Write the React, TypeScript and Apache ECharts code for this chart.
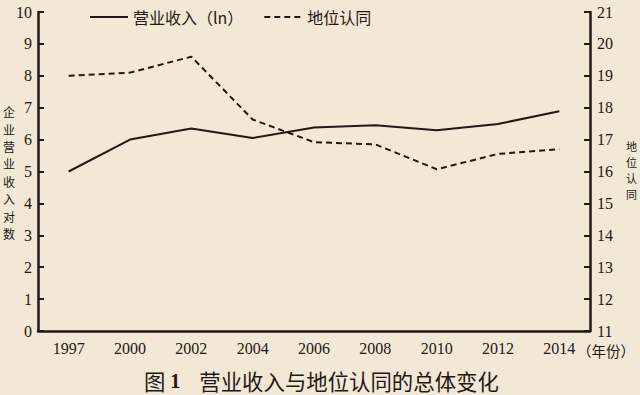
import React, { useEffect, useRef } from "react";
import * as echarts from "echarts";

const years = ["1997", "2000", "2002", "2004", "2006", "2008", "2010", "2012", "2014"];
const revenue = [5.0, 6.0, 6.35, 6.05, 6.38, 6.45, 6.29, 6.49, 6.89];
const status = [19.0, 19.1, 19.6, 17.63, 16.92, 16.85, 16.07, 16.55, 16.7];
const revenueName = "营业收入（ln）";
const statusName = "地位认同";
const leftAxisName = "企业营业收入对数";
const rightAxisName = "地位认同";
const xAxisUnit = "（年份）";

const ink = "#231815";
const bg = "#f3e7d6";
const serif = "Liberation Serif";
const cjk = "Noto Sans CJK SC";

export default function App() {
  const ref = useRef<HTMLDivElement>(null);
  useEffect(() => {
    document.body.style.margin = "0";
    const chart = echarts.init(ref.current!, undefined, { renderer: "svg" });
    chart.setOption({
      animation: false,
      backgroundColor: bg,
      textStyle: { fontFamily: serif },
      grid: { left: 38, right: 50, top: 12, bottom: 64 },
      legend: {
        left: 84,
        top: 4,
        itemWidth: 38,
        itemHeight: 14,
        itemGap: 20,
        itemStyle: { opacity: 0 },
        textStyle: { fontFamily: cjk, fontSize: 16, color: ink },
        data: [revenueName, statusName],
      },
      xAxis: {
        type: "category",
        data: years,
        boundaryGap: true,
        axisLine: { lineStyle: { color: ink, width: 2.5 } },
        axisTick: { inside: true, length: 6, lineStyle: { color: ink, width: 2 } },
        axisLabel: { fontFamily: serif, fontSize: 16, color: ink, margin: 9 },
      },
      yAxis: [
        {
          type: "value",
          min: 0,
          max: 10,
          interval: 1,
          splitLine: { show: false },
          axisLine: { show: true, lineStyle: { color: ink, width: 2.5 } },
          axisTick: { show: true, inside: true, length: 6, lineStyle: { color: ink, width: 2 } },
          axisLabel: { fontFamily: serif, fontSize: 16, color: ink, margin: 6 },
        },
        {
          type: "value",
          min: 11,
          max: 21,
          interval: 1,
          position: "right",
          splitLine: { show: false },
          axisLine: { show: true, lineStyle: { color: ink, width: 2.5 } },
          axisTick: { show: true, inside: true, length: 6, lineStyle: { color: ink, width: 2 } },
          axisLabel: { fontFamily: serif, fontSize: 16, color: ink, margin: 7 },
        },
      ],
      series: [
        {
          name: revenueName,
          type: "line",
          yAxisIndex: 0,
          data: revenue,
          symbol: "none",
          lineStyle: { color: ink, width: 2 },
          itemStyle: { color: ink },
        },
        {
          name: statusName,
          type: "line",
          yAxisIndex: 1,
          data: status,
          symbol: "none",
          lineStyle: { color: ink, width: 2, type: [6, 4] },
          itemStyle: { color: ink },
        },
      ],
      graphic: [
        {
          type: "text",
          left: 3,
          top: 103,
          style: {
            text: leftAxisName.split("").join("\n"),
            font: `12px ${cjk}`,
            lineHeight: 17.4,
            fill: ink,
          },
        },
        {
          type: "text",
          left: 626,
          top: 138,
          style: {
            text: rightAxisName.split("").join("\n"),
            font: `11px ${cjk}`,
            lineHeight: 16,
            fill: ink,
          },
        },
        {
          type: "text",
          left: 577,
          top: 343,
          style: {
            text: xAxisUnit,
            font: `14.5px ${cjk}`,
            fill: ink,
          },
        },
        {
          type: "text",
          left: 144,
          top: 370,
          style: {
            text: "{a|图 }{b|1}{a|    营业收入与地位认同的总体变化}",
            rich: {
              a: { fontFamily: cjk, fontSize: 21.4, fill: ink, color: ink },
              b: { fontFamily: serif, fontSize: 20, fontWeight: "bold", fill: ink, color: ink },
            },
          },
        },
      ],
    });
    return () => chart.dispose();
  }, []);
  return <div ref={ref} style={{ width: 640, height: 395, background: bg }} />;
}
